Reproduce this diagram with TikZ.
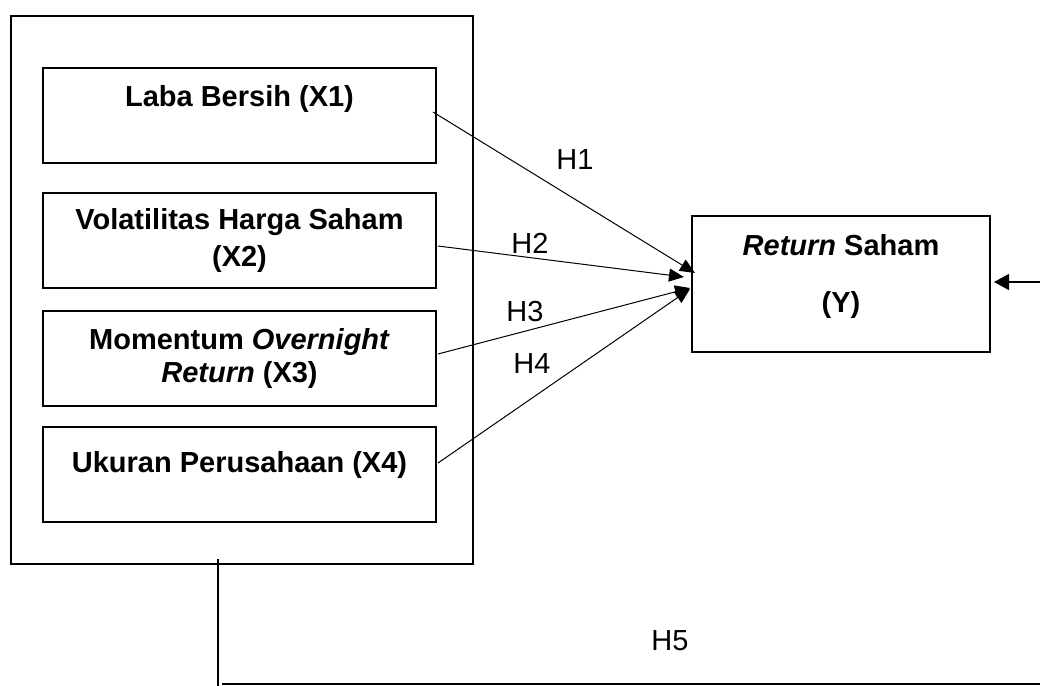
\documentclass[tikz,border=0pt]{standalone}
\usepackage{fontspec}
\setmainfont{Liberation Sans}
\usetikzlibrary{arrows.meta,positioning}

\begin{document}
\begin{tikzpicture}[x=0.5pt,y=-0.5pt,>={Triangle[length=7.5pt,width=6.5pt]},
  every node/.style={font=\fontsize{14.5}{17.5}\selectfont},
  varbox/.style={draw,line width=1pt,align=center,minimum width=196.5pt,minimum height=47.5pt,inner sep=0pt,font=\fontsize{14.5}{17.5}\selectfont\bfseries},
  link/.style={->,line width=0.5pt}]
\useasboundingbox (0,0) rectangle (1040,686);
\node[draw,line width=1pt,minimum width=231pt,minimum height=274pt,inner sep=0pt] (grp) at (242,290) {};
\node[varbox] (x1) at (239.5,115.5) {Laba Bersih (X1)\\[2pt]\mbox{}};
\node[varbox,below=14pt of x1] (x2) {Volatilitas Harga Saham\\[1pt](X2)};
\node[varbox,below=10.5pt of x2] (x3) {Momentum \textit{Overnight}\\[-1pt]\textit{Return} (X3)};
\node[varbox,below=9.5pt of x3] (x4) {Ukuran Perusahaan (X4)\\[-4.5pt]\mbox{}};
\node[varbox,minimum width=149pt,minimum height=68pt] (y) at (841,284) {\textit{Return} Saham\\[11pt](Y)\\[-6.5pt]\mbox{}};
\node (h1) at (575,160) {H1};
\node (h2) at (530,243) {H2};
\node (h3) at (525,312) {H3};
\node (h4) at (532,364) {H4};
\node (h5) at (670,641) {H5};
\coordinate (fb) at (1040,282);
\coordinate (drop) at (218,559);
\coordinate (dropend) at (218,686);
\coordinate (base) at (222,684);
\coordinate (baseend) at (1040,684);
\draw[link] ([shift={(-4,-3.5)}]x1.east) -- ([shift={(4,-11)}]y.west);
\draw[link] ([shift={(1,5.5)}]x2.east) -- ([shift={(-7,-7)}]y.west);
\draw[link] ([shift={(1,-4.5)}]x3.east) -- ([shift={(-1,4)}]y.west);
\draw[link] ([shift={(1,-11.5)}]x4.east) -- ([shift={(-1,5)}]y.west);
\draw[->,line width=0.6pt,>={Triangle[length=7.5pt,width=8pt]},shorten >=1.5pt] (fb) -- (fb -| y.east);
\draw[line width=0.75pt] (drop) -- (dropend);
\draw[line width=0.7pt] (base) -- (baseend);
\end{tikzpicture}
\end{document}
